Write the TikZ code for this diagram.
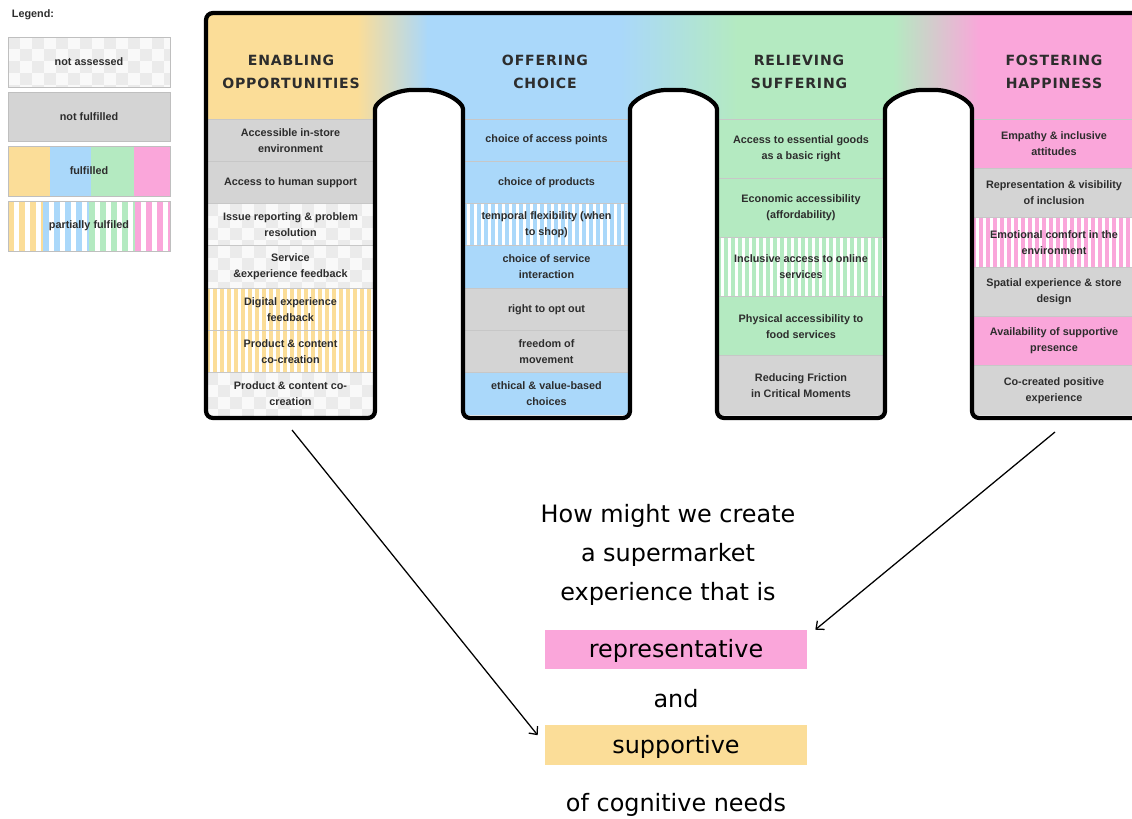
\documentclass[tikz,border=0pt]{standalone}
\usepackage{fontspec}
\setmainfont{Liberation Sans}
\newfontfamily\headfont[LetterSpace=6]{DejaVu Sans}
\newfontfamily\askfont{DejaVu Sans}
\usepackage{xcolor}
\definecolor{warmyellow}{RGB}{251, 221, 152}
\definecolor{skyblue}{RGB}{170, 216, 250}
\definecolor{mintgreen}{RGB}{180, 234, 193}
\definecolor{candypink}{RGB}{250, 166, 218}
\definecolor{neutralgray}{RGB}{212, 212, 212}
\definecolor{checklight}{RGB}{249, 249, 249}
\definecolor{checkdark}{RGB}{235, 235, 235}
\definecolor{ink}{RGB}{45, 45, 45}
\usepackage{tikz}
\usetikzlibrary{arrows.meta, positioning, calc}

\newcommand{\stripestep}{7}
\newcommand{\cellgrey}[5]{\fill[neutralgray] (#2,#3) rectangle (#4,#5);}
\newcommand{\cellfull}[5]{\fill[#1] (#2,#3) rectangle (#4,#5);}
\newcommand{\cellpart}[5]{%
  \begin{scope}
    \clip (#2,#3) rectangle (#4,#5);
    \fill[#1] (#2,#3) rectangle (#4,#5);
    \foreach \k in {0,...,25}
      \fill[white] ({#2+\stripestep*\k+0.55*\stripestep},#3) rectangle ++({0.45*\stripestep},{#5-#3});
  \end{scope}}
\newcommand{\cellnone}[5]{%
  \begin{scope}
    \clip (#2,#3) rectangle (#4,#5);
    \fill[checklight] (#2,#3) rectangle (#4,#5);
    \foreach \r in {0,...,5} {
      \pgfmathsetmacro{\chkshift}{12*mod(\r,2)}
      \foreach \k in {0,...,8}
        \fill[checkdark] ({#2+24*\k+\chkshift},{#3+12*\r}) rectangle ++(12,12);
    }
  \end{scope}}

\begin{document}
\begin{tikzpicture}[x=0.025cm, y=-0.025cm, >={Straight Barb[length=4.5pt, width=8pt]},
    celltext/.style={font=\bfseries\fontsize{7.7}{11.4}\selectfont, text=ink, align=center},
    headtext/.style={font=\headfont\bfseries\fontsize{10}{16.4}\selectfont, text=ink, align=center},
    asktext/.style={font=\askfont\fontsize{17}{27.7}\selectfont, text=black, align=center},
    hlbox/.style={asktext, minimum width=6.55cm, minimum height=0.975cm, inner sep=0pt, text height=15pt, text depth=3pt},
    sepline/.style={draw=black!22, line width=0.6pt},
    legframe/.style={draw=black!25, line width=0.6pt},
    pointer/.style={->, line width=0.9pt, black}]
    \clip (0,0) rectangle (1132,819);
    \fill[white] (0,0) rectangle (1132,819);

    % legend
    \node[celltext, anchor=west] (legtitle) at (7,15) {Legend:};
    \cellnone{x}{8}{37}{170}{87}
    \draw[legframe] (8,37) rectangle (170,87);
    \node[celltext] (lgnone) at (89,62) {not assessed};
    \cellgrey{x}{8}{92}{170}{141}
    \draw[legframe] (8,92) rectangle (170,141);
    \node[celltext] (lggrey) at (89,116.5) {not fulfilled};
    \foreach \col/\xa/\xb in {warmyellow/8/50, skyblue/50/91, mintgreen/91/134, candypink/134/170} {
        \cellfull{\col}{\xa}{146}{\xb}{196}
    }
    \draw[legframe] (8,146) rectangle (170,196);
    \node[celltext] (lgfull) at (89,171) {fulfilled};
    \foreach \col/\xa/\xb in {warmyellow/8/43, skyblue/43/89, mintgreen/89/135, candypink/135/170} {
        \renewcommand{\stripestep}{11}
        \cellpart{\col}{\xa}{201}{\xb}{251}
    }
    \draw[legframe] (8,201) rectangle (170,251);
    \node[celltext] (lgpart) at (89,226) {partially fulfiled};

    % frame with the three arches
    \path[save path=\archframe, rounded corners=5pt]
        (1150,13) -- (206,13) -- (206,418) -- (375,418) -- (375,116)
        .. controls (375,101.6) and (394.7,90) .. (419,90)
        .. controls (443.3,90) and (463,101.6) .. (463,116)
        -- (463,418) -- (630,418) -- (630,116)
        .. controls (630,101.6) and (649.5,90) .. (673.5,90)
        .. controls (697.5,90) and (717,101.6) .. (717,116)
        -- (717,418) -- (885,418) -- (885,116)
        .. controls (885,101.6) and (904.5,90) .. (928.5,90)
        .. controls (952.5,90) and (972,101.6) .. (972,116)
        -- (972,418) -- (1150,418) -- cycle;

    \begin{scope}
        \path[clip, use path=\archframe];
        \fill[warmyellow] (200,0) rectangle (358,125);
        \shade[left color=warmyellow, right color=skyblue] (357,0) rectangle (428,125);
        \fill[skyblue] (427,0) rectangle (621,125);
        \shade[left color=skyblue, right color=mintgreen] (620,0) rectangle (738,125);
        \fill[mintgreen] (737,0) rectangle (894,125);
        \shade[left color=mintgreen, right color=candypink] (893,0) rectangle (981,125);
        \fill[candypink] (980,0) rectangle (1150,125);

        \foreach \kind/\col/\lbl [count=\i] in {
            \cellgrey/x/{Accessible in-store\\environment},
            \cellgrey/x/{Access to human support},
            \cellnone/x/{Issue reporting \& problem\\resolution},
            \cellnone/x/{Service\\\&experience feedback},
            \cellpart/warmyellow/{Digital experience\\feedback},
            \cellpart/warmyellow/{Product \& content\\co-creation},
            \cellnone/x/{Product \& content co-\\creation}} {
            \pgfmathsetmacro{\ya}{119+(\i-1)*42.3}
            \pgfmathsetmacro{\yb}{\ya+42.3}
            \kind{\col}{206}{\ya}{375}{\yb}
            \draw[sepline] (206,\ya) -- (375,\ya);
            \node[celltext] (opp\i) at (290.5,{(\ya+\yb)/2}) {\lbl};
        }

        \foreach \kind/\col/\lbl [count=\i] in {
            \cellfull/skyblue/{choice of access points},
            \cellfull/skyblue/{choice of products},
            \cellpart/skyblue/{temporal flexibility (when\\to shop)},
            \cellfull/skyblue/{choice of service\\interaction},
            \cellgrey/x/{right to opt out},
            \cellgrey/x/{freedom of\\movement},
            \cellfull/skyblue/{ethical \& value-based\\choices}} {
            \pgfmathsetmacro{\ya}{119+(\i-1)*42.3}
            \pgfmathsetmacro{\yb}{\ya+42.3}
            \kind{\col}{463}{\ya}{630}{\yb}
            \draw[sepline] (463,\ya) -- (630,\ya);
            \node[celltext] (cho\i) at (546.5,{(\ya+\yb)/2}) {\lbl};
        }

        \foreach \kind/\col/\lbl [count=\i] in {
            \cellfull/mintgreen/{Access to essential goods\\as a basic right},
            \cellfull/mintgreen/{Economic accessibility\\(affordability)},
            \cellpart/mintgreen/{Inclusive access to online\\services},
            \cellfull/mintgreen/{Physical accessibility to\\food services},
            \cellgrey/x/{Reducing Friction\\in Critical Moments}} {
            \pgfmathsetmacro{\ya}{119+(\i-1)*59.2}
            \pgfmathsetmacro{\yb}{\ya+59.2}
            \kind{\col}{717}{\ya}{885}{\yb}
            \draw[sepline] (717,\ya) -- (885,\ya);
            \node[celltext] (rel\i) at (801,{(\ya+\yb)/2}) {\lbl};
        }

        \foreach \kind/\col/\lbl [count=\i] in {
            \cellfull/candypink/{Empathy \& inclusive\\attitudes},
            \cellgrey/x/{Representation \& visibility\\of inclusion},
            \cellpart/candypink/{Emotional comfort in the\\environment},
            \cellgrey/x/{Spatial experience \& store\\design},
            \cellfull/candypink/{Availability of supportive\\presence},
            \cellgrey/x/{Co-created positive\\experience}} {
            \pgfmathsetmacro{\ya}{119+(\i-1)*49.33}
            \pgfmathsetmacro{\yb}{\ya+49.33}
            \kind{\col}{972}{\ya}{1150}{\yb}
            \draw[sepline] (972,\ya) -- (1150,\ya);
            \node[celltext] (hap\i) at (1054,{(\ya+\yb)/2}) {\lbl};
        }
    \end{scope}
    \draw[line width=3pt, line join=round, use path=\archframe];

    \node[headtext] (hdopp) at (291,71.5) {ENABLING\\OPPORTUNITIES};
    \node[headtext] (hdcho) at (545,71.5) {OFFERING\\CHOICE};
    \node[headtext] (hdrel) at (799,71.5) {RELIEVING\\SUFFERING};
    \node[headtext] (hdhap) at (1054,71.5) {FOSTERING\\HAPPINESS};

    % question
    \node[asktext] (ask) at (668,555) {How might we create\\a supermarket\\experience that is};
    \node[hlbox, fill=candypink] (repbox) at (676,649.5) {representative};
    \node[asktext] (andword) at (676,699) {and};
    \node[hlbox, fill=warmyellow] (suppbox) at (676,745) {supportive};
    \node[asktext] (needs) at (676,805) {of cognitive needs};

    \coordinate (oppfoot) at (292,430);
    \coordinate (hapfoot) at (1055,432);
    \draw[pointer] (oppfoot) -- ($(suppbox.north west)+(-7,10)$);
    \draw[pointer] (hapfoot) -- ($(repbox.north east)+(8,0)$);
\end{tikzpicture}
\end{document}
